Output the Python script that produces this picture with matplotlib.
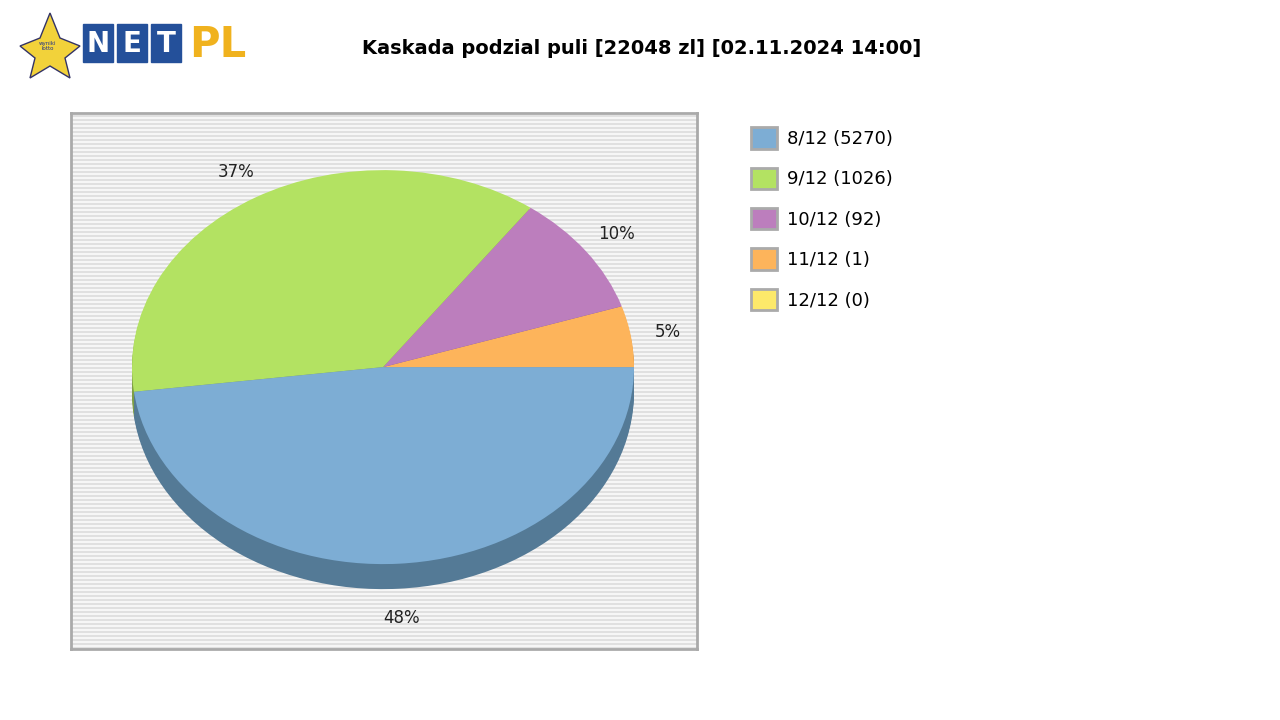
import matplotlib
matplotlib.use("Agg")
import matplotlib.pyplot as plt
from matplotlib.patches import Rectangle, Patch

labels = ["8/12 (5270)", "9/12 (1026)", "10/12 (92)", "11/12 (1)", "12/12 (0)"]
shares = [48, 37, 10, 5, 0]
colors = ["#7dadd4", "#b3e262", "#bc7ebd", "#fdb45b", "#fde96a"]
dark = ["#547a96", "#7e9f45", "#845885", "#b17e40", "#b1a34a"]
title = "Kaskada podzial puli [22048 zl] [02.11.2024 14:00]"

fig = plt.figure(figsize=(12.8, 7.2), dpi=100)
W, H = 1280, 720
def ax_px(x0, y0, x1, y1):
    return fig.add_axes([x0 / W, 1 - y1 / H, (x1 - x0) / W, (y1 - y0) / H])

ax = ax_px(71, 113, 697, 649)
ax.set_facecolor("#f6f6f6")
for i in range(0, 536, 4):
    ax.add_patch(Rectangle((0, i / 536), 1, 2 / 536, color="#e0e0e0", lw=0,
                           transform=ax.transAxes, zorder=0))
for s in ax.spines.values():
    s.set_color("#aaaaaa"); s.set_linewidth(2)

order = [3, 2, 1, 0]
vals = [shares[i] for i in order]
cols = [colors[i] for i in order]
dcols = [dark[i] for i in order]
depth = 0.127
for k in range(12, 0, -1):
    ax.pie(vals, colors=dcols, startangle=0, counterclock=True, radius=1,
           center=(0, -depth * k / 12), frame=True, wedgeprops=dict(lw=0))
pct = [f"{v}%" for v in vals]
wedges, texts = ax.pie(vals, colors=cols, startangle=0, counterclock=True, radius=1,
                       center=(0, 0), frame=True, labels=pct, labeldistance=1.15,
                       textprops=dict(fontsize=12, color="#222222"), wedgeprops=dict(lw=0))
for t in texts:
    x, y = t.get_position()
    t.set_ha("center"); t.set_va("center")
    if y < -0.5:
        t.set_position((x, y - depth))
ax.set_aspect("auto")
ax.set_xlim(-1.243, 1.251)
ax.set_ylim(-1.431, 1.29)
ax.set_xticks([]); ax.set_yticks([])

fig.text(642 / W, 1 - 48 / H, title, ha="center", va="center", fontsize=14, fontweight="bold")

handles = [Patch(facecolor=c, edgecolor="#aaaaaa", lw=2) for c in colors]
fig.legend(handles, labels, loc="upper left", bbox_to_anchor=(744 / W, 1 - 120 / H),
           frameon=False, fontsize=13, handlelength=1.45, handleheight=1.45,
           labelspacing=1.05, handletextpad=0.55, borderaxespad=0)

# logo
lg = ax_px(15, 8, 270, 82)
lg.set_xlim(0, 255); lg.set_ylim(74, 0); lg.axis("off")
lg.fill([5, 25, 35, 45, 65, 50, 55, 35, 15, 20], [38, 30, 5, 30, 38, 50, 70, 58, 70, 50], color="#f2d23a", ec="#333366")
lg.text(33, 38, "wyniki\nlotto", fontsize=4, ha="center", va="center", color="#223388")
for i, ch in enumerate("NET"):
    lg.add_patch(Rectangle((68 + i * 34, 16), 30, 38, color="#24509a"))
    lg.text(83 + i * 34, 36, ch, color="white", fontsize=20, fontweight="bold", ha="center", va="center")
lg.text(174, 37, "PL", color="#f0b21e", fontsize=30, fontweight="bold", ha="left", va="center")

fig.savefig("out.png", dpi=100)
